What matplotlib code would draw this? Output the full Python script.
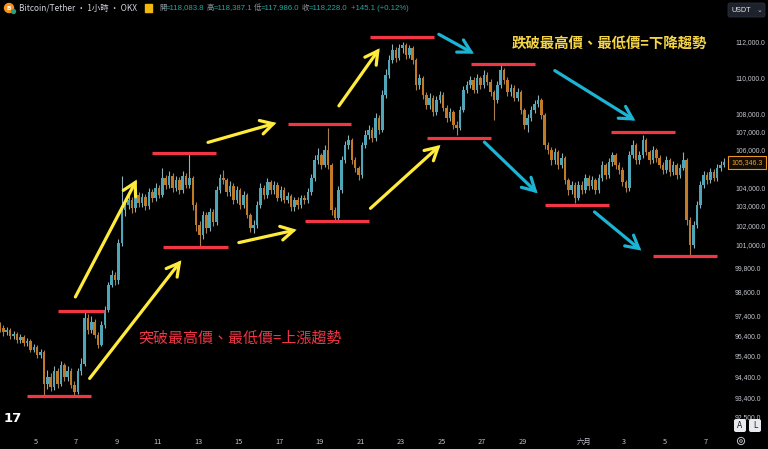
import matplotlib
matplotlib.use("Agg")
import matplotlib.pyplot as plt
import numpy as np
from matplotlib.patches import FancyArrowPatch, FancyBboxPatch, Rectangle, Circle

plt.rcParams['font.family'] = ['Noto Sans CJK TC', 'DejaVu Sans']

# ---------------- data (4-hour candles, prices in thousand USDT) ----------------
first_open = 96.90
closes = [
    96.76, 96.57, 96.67, 96.38, 96.48, 96.19, 96.33, 96.04, 96.14, 95.71,
    95.85, 95.43, 95.61, 94.04, 94.38, 93.90, 94.66, 94.04, 94.95, 94.38,
    94.66, 94.00, 93.67, 94.66, 95.00, 97.25, 96.67, 97.05, 96.43, 95.95,
    96.91, 97.65, 98.91, 99.42, 99.16, 101.06, 102.78, 103.04, 103.31, 102.88,
    103.57, 103.15, 103.47, 102.99, 103.73, 103.41, 103.94, 103.57, 104.48, 104.10,
    104.59, 103.94, 104.37, 103.84, 104.59, 104.10, 104.48, 103.04, 101.99, 101.48,
    102.52, 101.84, 102.67, 102.15, 103.84, 104.48, 104.37, 103.73, 104.05, 103.31,
    103.84, 103.04, 103.57, 102.52, 101.84, 101.99, 103.04, 103.94, 103.57, 104.26,
    103.84, 104.10, 103.41, 103.84, 103.31, 103.52, 102.94, 103.31, 103.04, 103.41,
    103.31, 103.73, 104.48, 105.44, 105.71, 105.17, 105.98, 105.17, 102.78, 102.36,
    103.84, 105.44, 106.25, 106.52, 105.44, 105.01, 104.64, 106.25, 106.80, 107.07,
    106.63, 107.73, 107.07, 109.01, 110.13, 110.97, 111.54, 111.09, 111.66, 111.83,
    111.26, 111.66, 110.97, 109.56, 109.96, 109.01, 108.45, 108.84, 108.06, 108.73,
    109.01, 108.28, 107.73, 108.06, 107.35, 107.18, 108.17, 109.28, 109.56, 109.84,
    109.28, 109.96, 109.56, 110.13, 109.73, 109.17, 108.73, 109.56, 110.41, 109.84,
    109.17, 109.40, 108.84, 109.17, 108.17, 107.35, 107.73, 108.17, 108.50, 108.73,
    107.90, 106.25, 105.98, 105.44, 105.87, 105.17, 105.55, 104.37, 103.84, 104.10,
    103.41, 104.10, 103.84, 104.48, 104.05, 104.37, 103.84, 104.48, 105.17, 104.64,
    105.33, 105.71, 105.17, 104.91, 104.26, 103.94, 105.71, 106.25, 105.44, 105.71,
    106.52, 105.87, 105.44, 105.98, 105.55, 105.17, 104.91, 105.44, 104.80, 105.17,
    104.64, 105.01, 105.44, 102.25, 100.96, 101.99, 103.04, 104.10, 104.64, 104.37,
    104.80, 104.48, 105.01, 105.17, 105.35,
]
highs = [
    97.05, 96.90, 96.85, 96.80, 96.65, 96.60, 96.50, 96.45, 96.30, 96.25,
    96.00, 95.95, 95.75, 95.70, 94.70, 94.60, 94.90, 94.80, 95.14, 95.05,
    94.90, 94.80, 94.20, 94.80, 95.30, 97.60, 97.45, 97.35, 97.20, 96.60,
    97.10, 97.85, 99.10, 99.70, 99.60, 101.30, 104.60, 103.40, 103.60, 103.50,
    103.80, 103.75, 103.70, 103.65, 103.95, 103.90, 104.20, 104.10, 105.01, 104.65,
    104.85, 104.75, 104.60, 104.55, 104.85, 104.75, 105.82, 104.60, 103.20, 102.20,
    102.75, 102.70, 102.90, 102.85, 104.05, 104.70, 104.91, 104.50, 104.30, 104.20,
    104.05, 103.95, 103.80, 103.70, 102.65, 102.25, 103.25, 104.20, 104.10, 104.50,
    104.40, 104.35, 104.25, 104.05, 104.00, 103.75, 103.65, 103.50, 103.50, 103.60,
    103.60, 103.95, 104.70, 105.70, 106.09, 105.85, 106.25, 107.18, 105.30, 102.95,
    104.05, 105.65, 106.50, 106.80, 106.65, 105.60, 105.15, 106.45, 107.05, 107.35,
    107.25, 108.00, 107.90, 109.30, 110.45, 111.25, 111.90, 111.70, 111.90, 112.00,
    111.95, 111.85, 111.80, 111.10, 110.20, 110.10, 109.15, 109.10, 109.00, 108.95,
    109.25, 109.15, 108.45, 108.30, 108.20, 107.55, 108.40, 109.50, 109.80, 110.10,
    110.00, 110.20, 110.10, 110.40, 110.30, 109.90, 109.30, 109.80, 110.69, 110.55,
    110.00, 109.65, 109.55, 109.40, 109.30, 108.30, 107.95, 108.40, 108.75, 109.01,
    108.85, 108.00, 106.45, 106.15, 106.10, 106.00, 105.80, 105.65, 104.50, 104.35,
    104.25, 104.35, 104.30, 104.70, 104.65, 104.60, 104.50, 104.70, 105.40, 105.30,
    105.55, 105.87, 105.80, 105.35, 105.05, 104.40, 105.95, 106.52, 106.35, 105.95,
    106.80, 106.65, 106.00, 106.20, 106.10, 105.70, 105.35, 105.65, 105.55, 105.40,
    105.30, 105.25, 105.87, 105.55, 102.40, 102.20, 103.25, 104.35, 104.85, 104.80,
    105.00, 104.95, 105.25, 105.40, 105.55,
]
lows = [
    96.60, 96.40, 96.45, 96.25, 96.25, 96.05, 96.05, 95.90, 95.90, 95.60,
    95.60, 95.30, 95.30, 93.48, 93.80, 93.70, 93.75, 93.85, 93.95, 94.20,
    94.20, 93.85, 93.48, 93.55, 94.50, 94.90, 96.50, 96.55, 96.30, 95.80,
    95.90, 96.80, 97.55, 98.80, 98.95, 99.00, 100.90, 102.50, 102.85, 102.65,
    102.70, 102.95, 102.95, 102.80, 102.85, 103.20, 103.25, 103.40, 103.45, 103.90,
    103.95, 103.75, 103.80, 103.65, 103.70, 103.95, 103.95, 102.80, 101.70, 100.85,
    101.30, 101.60, 101.70, 101.95, 102.00, 103.70, 104.15, 103.55, 103.55, 103.10,
    103.15, 102.85, 102.90, 102.35, 101.65, 101.58, 101.85, 102.90, 103.35, 103.40,
    103.65, 103.65, 103.25, 103.25, 103.15, 103.15, 102.75, 102.75, 102.85, 102.90,
    103.10, 103.15, 103.60, 104.35, 105.25, 104.95, 105.05, 104.95, 102.55, 102.15,
    102.25, 103.70, 105.30, 106.05, 105.25, 104.80, 104.37, 104.50, 106.10, 106.60,
    106.40, 106.50, 106.85, 106.95, 108.85, 109.95, 110.80, 110.85, 110.95, 111.40,
    111.05, 111.10, 110.75, 109.30, 109.35, 108.80, 108.25, 108.25, 107.85, 107.90,
    108.55, 108.10, 107.50, 107.55, 107.15, 106.80, 107.05, 108.05, 109.10, 109.40,
    109.10, 109.10, 109.35, 109.40, 109.55, 108.95, 107.62, 108.55, 109.40, 109.65,
    108.95, 108.95, 108.65, 108.65, 107.95, 107.15, 106.96, 107.55, 108.00, 108.35,
    107.70, 106.05, 105.75, 105.20, 105.25, 104.95, 105.00, 104.15, 103.60, 103.65,
    103.15, 103.30, 103.65, 103.70, 103.85, 103.90, 103.65, 103.70, 104.35, 104.45,
    104.50, 105.15, 104.95, 104.70, 104.05, 103.75, 103.80, 105.55, 105.25, 105.25,
    105.55, 105.70, 105.25, 105.30, 105.35, 105.00, 104.70, 104.75, 104.60, 104.65,
    104.45, 104.50, 104.90, 102.00, 100.39, 100.80, 101.85, 102.90, 103.95, 104.15,
    104.20, 104.30, 104.35, 104.85, 105.05,
]
last_price = 105346.3

# day labels along the time axis: (day offset from first candle in days, label)
day_offsets = [1.75, 3.75, 5.75, 7.75, 9.75, 11.75, 13.75, 15.75, 17.75, 19.75,
               21.75, 23.75, 25.75, 28.75, 30.75, 32.75, 34.75]
day_labels = ['5', '7', '9', '11', '13', '15', '17', '19', '21', '23',
              '25', '27', '29', '六月', '3', '5', '7']
candles_per_day = 6

ytick_vals = [112.0, 110.0, 108.0, 107.0, 106.0, 104.0, 103.0, 102.0, 101.0,
              99.8, 98.6, 97.4, 96.4, 95.4, 94.4, 93.4, 92.5]

# support / resistance levels: (start candle, end candle, price)
level_start = [8.0, 17.2, 45.0, 48.2, 85.2, 90.2, 109.5, 126.3, 139.1, 161.2, 180.5, 192.9]
level_end = [26.9, 30.8, 63.9, 67.5, 103.8, 109.2, 128.4, 145.0, 158.0, 179.9, 199.4, 211.8]
level_price = [93.45, 97.60, 105.82, 100.85, 107.40, 102.20, 112.29, 106.63, 110.75, 103.04, 106.96, 100.39]

# trend arrows: (x0, p0, x1, p1)
up_arrows = [(21.9, 98.20, 40.8, 104.53), (26.0, 94.21, 54.1, 100.29),
             (60.7, 106.36, 82.5, 107.51), (69.8, 101.06, 88.5, 101.79),
             (99.7, 108.28, 112.7, 111.77), (108.9, 102.78, 130.8, 106.36)]
down_arrows = [(129.0, 112.52, 140.8, 111.26), (142.6, 106.52, 159.5, 103.57),
               (163.3, 110.46, 188.5, 107.51), (175.1, 102.78, 190.2, 100.59)]

# ---------------- figure ----------------
BG = '#000000'
fig = plt.figure(figsize=(7.68, 4.49), dpi=100, facecolor=BG)
W, H = 768, 449
ax = fig.add_axes([0, 1 - 430 / H, 726 / W, 410 / H])
ax.set_facecolor(BG)
for s in ax.spines.values():
    s.set_visible(False)

n = len(closes)
x = np.arange(n)
c = np.array(closes)
o = np.concatenate([[first_open], c[:-1]])
hi = np.array(highs)
lo = np.array(lows)
up = c >= o
UPC, DNC = '#4fa6b8', '#c27a26'
colors = np.where(up, UPC, DNC)
wick_colors = np.where(up, '#8fb0b6', '#a8804f')

ax.set_yscale('log')
ax.vlines(x, lo, hi, colors=wick_colors, lw=0.8, zorder=2)
body_h = np.maximum(np.abs(c - o), 0.04)
ax.bar(x, body_h, bottom=np.minimum(o, c), width=0.75, color=colors,
       edgecolor='none', zorder=3)

ax.set_xlim(0, 726 / 3.383)
ax.set_ylim(91.862, 113.267)

# levels
for xs, xe, p in zip(level_start, level_end, level_price):
    ax.plot([xs, xe], [p, p], color='#f23645', lw=2.3, solid_capstyle='butt', zorder=5)

def draw_arrow(a, col):
    x0, p0, x1, p1 = a
    ar = FancyArrowPatch((x0, p0), (x1, p1),
                         arrowstyle='->,head_length=9,head_width=5',
                         mutation_scale=1, color=col, lw=2.3,
                         joinstyle='miter', capstyle='round', zorder=6)
    ax.add_patch(ar)

for a in up_arrows:
    draw_arrow(a, '#ffeb3b')
for a in down_arrows:
    draw_arrow(a, '#1cb4d4')

ax.text(71, 96.27, '突破最高價、最低價=上漲趨勢', color='#f23645', fontsize=10.8,
        ha='center', va='center', zorder=7)
ax.text(180, 111.9, '跌破最高價、最低價=下降趨勢', color='#f5d546', fontsize=10.4,
        fontweight='bold', ha='center', va='center', zorder=7)

# axes ticks
ax.yaxis.set_ticks_position('right')
ax.minorticks_off()
ax.set_yticks(ytick_vals)
ax.set_yticklabels([f'{v * 1000:,.1f}' for v in ytick_vals], fontsize=4.9,
                   color='#c3c6ce', family=['Liberation Sans'])
ax.tick_params(axis='y', length=0, pad=6.5)
ax.set_xticks([d * candles_per_day for d in day_offsets])
ax.set_xticklabels(day_labels, fontsize=5.3, color='#c3c6ce')
ax.tick_params(axis='x', length=0, pad=6)

# ---------------- overlay decorations (pixel coordinates) ----------------
ov = fig.add_axes([0, 0, 1, 1], zorder=10)
ov.set_xlim(0, W)
ov.set_ylim(H, 0)
ov.axis('off')
ov.patch.set_alpha(0)

# header
ov.add_patch(Circle((9, 8), 4.5, color='#f7931a'))
ov.text(9, 8.3, 'B', color='white', fontsize=4.2, fontweight='bold', ha='center',
        va='center', family=['DejaVu Sans'])
ov.add_patch(Circle((13.5, 11.5), 2, color='#26a17b'))
ov.text(19, 8, 'Bitcoin/Tether · 1小時 · OKX', color='#d1d4dc', fontsize=6.0,
        ha='left', va='center')
ov.add_patch(Rectangle((145, 4), 7, 8, color='#f2b90c'))
hdr_lab = ['開', '高', '低', '收']
hdr_val = ['=118,083.8', '=118,387.1', '=117,986.0', '=118,228.0']
hdr_lx = [159, 207, 254, 302]
for lb, vl, lx in zip(hdr_lab, hdr_val, hdr_lx):
    ov.text(lx, 8, lb, color='#9598a1', fontsize=5.3, ha='left', va='center')
    ov.text(lx + 7, 8, vl, color='#22a9a0', fontsize=5.6, ha='left', va='center',
            family=['Liberation Sans'])
ov.text(351, 8, '+145.1 (+0.12%)', color='#22a9a0', fontsize=5.6, ha='left',
        va='center', family=['Liberation Sans'])

# USDT selector
ov.add_patch(FancyBboxPatch((728, 3), 37, 14, boxstyle='round,pad=0,rounding_size=2',
                            fc='#1e222d', ec='#2a2e39', lw=0.6))
ov.text(731, 10, 'USDT', color='#e6e6e6', fontsize=5.2, ha='left', va='center',
        family=['Liberation Sans'])
ov.text(760, 9.5, '⌄', color='#c3c6ce', fontsize=5, ha='center', va='center',
        family=['DejaVu Sans'])

# last price label
ov.add_patch(Rectangle((727.5, 156), 38.5, 12.5, fc='#120c04', ec='#e8961e', lw=0.8))
ov.text(746.7, 162.3, f'{last_price:,.1f}', color='#f0a02a', fontsize=5.0,
        ha='center', va='center', family=['Liberation Sans'])

# A / L buttons and settings
for bx, t in [(734, 'A'), (749, 'L')]:
    ov.add_patch(FancyBboxPatch((bx, 419), 12, 13, boxstyle='round,pad=0,rounding_size=2',
                                fc='#e9eaee', ec='none'))
    ov.text(bx + 6, 425.8, t, color='#131722', fontsize=5.5, ha='center', va='center',
            family=['DejaVu Sans'])
ov.add_patch(Circle((741, 441), 3.6, fc='none', ec='#c3c6ce', lw=0.7))
ov.add_patch(Circle((741, 441), 1.3, fc='none', ec='#c3c6ce', lw=0.6))

# TradingView logo
ov.text(4, 419, '17', color='white', fontsize=9.5, fontweight='heavy', ha='left',
        va='center', family=['DejaVu Sans'])

fig.savefig('out.png', dpi=100, facecolor=BG)
